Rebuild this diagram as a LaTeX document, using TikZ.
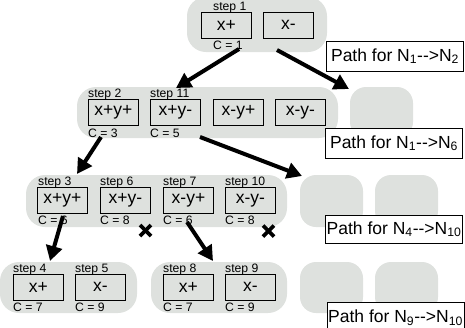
\documentclass[tikz,border=0pt]{standalone}
\usepackage{fontspec}
\setmainfont{Liberation Sans}[Ligatures=TeXOff]
\usetikzlibrary{arrows.meta}
\definecolor{grp}{RGB}{222,225,222}
\begin{document}
\begin{tikzpicture}[x=1pt,y=-1pt,
  group/.style={fill=grp,rounded corners=19pt},
  emptybox/.style={fill=grp,rounded corners=16pt},
  valbox/.style={draw=black,line width=0.9pt,fill=grp,minimum width=50pt,minimum height=25.5pt,inner sep=0pt,anchor=north west,font=\fontsize{17.5}{18}\selectfont},
  steplbl/.style={anchor=base west,inner sep=0pt,font=\fontsize{12.2}{13}\selectfont},
  costlbl/.style={anchor=base west,inner sep=0pt,font=\fontsize{12.2}{13}\selectfont},
  pathbox/.style={draw=black,line width=1.1pt,fill=white,anchor=north west,minimum width=137pt,minimum height=29.5pt,inner sep=0pt,font=\fontsize{17.5}{18}\selectfont},
  bigarrow/.style={line width=4pt,-{Triangle[length=15pt,width=16pt]}},
  crossmark/.style={line width=3.6pt}
]
\useasboundingbox (0,0) rectangle (465,327);
% groups
\fill[group] (187,-3) rectangle (327,52);
\fill[group] (77,87) rectangle (338,138);
\fill[emptybox] (350,87) rectangle (413,138);
\fill[group] (26,175) rectangle (287,227);
\fill[emptybox] (300,175) rectangle (363,227);
\fill[emptybox] (375,175) rectangle (438,227);
\fill[group] (0,262) rectangle (137,313);
\fill[group] (151,262) rectangle (287,313);
\fill[emptybox] (300,262) rectangle (363,313);
\fill[emptybox] (375,262) rectangle (438,313);

% level 1
\node[valbox] (a1) at (201,12) {x+};
\node[valbox] (a2) at (263,12) {x-};
\node[steplbl] (s1) at (213,10.5) {step 1};
\node[costlbl] (c1) at (213,49) {C = 1};

% level 2
\node[valbox] (b1) at (88,99) {x+y+};
\node[valbox] (b2) at (150,99) {x+y-};
\node[valbox] (b3) at (213,99) {x-y+};
\node[valbox] (b4) at (275,99) {x-y-};
\node[steplbl] (s2) at (88,97.5) {step 2};
\node[steplbl] (s11) at (150,97.5) {step 11};
\node[costlbl] (c3) at (88,137) {C = 3};
\node[costlbl] (c5) at (150,137) {C = 5};

% level 3
\node[valbox] (d1) at (37,187) {x+y+};
\node[valbox] (d2) at (100,187) {x+y-};
\node[valbox] (d3) at (163,187) {x-y+};
\node[valbox] (d4) at (225,187) {x-y-};
\node[steplbl] (s3) at (38,185.5) {step 3};
\node[steplbl] (s6) at (100,185.5) {step 6};
\node[steplbl] (s7) at (163,185.5) {step 7};
\node[steplbl] (s10) at (225,185.5) {step 10};
\node[costlbl] (c6a) at (38,224.5) {C = 6};
\node[costlbl] (c8a) at (100,224.5) {C = 8};
\node[costlbl] (c6b) at (163,224.5) {C = 6};
\node[costlbl] (c8b) at (225,224.5) {C = 8};

% level 4
\node[valbox] (e1) at (13,274) {x+};
\node[valbox] (e2) at (75,274) {x-};
\node[valbox] (e3) at (163,274) {x+};
\node[valbox] (e4) at (225,274) {x-};
\node[steplbl] (s4) at (13,272.5) {step 4};
\node[steplbl] (s5) at (75,272.5) {step 5};
\node[steplbl] (s8) at (163,272.5) {step 8};
\node[steplbl] (s9) at (225,272.5) {step 9};
\node[costlbl] (c7a) at (13,311.5) {C = 7};
\node[costlbl] (c9a) at (75,311.5) {C = 9};
\node[costlbl] (c7b) at (163,311.5) {C = 7};
\node[costlbl] (c9b) at (225,311.5) {C = 9};

% path boxes
\node[pathbox] (p1) at (326,41) {Path for N\textsubscript{1}-->N\textsubscript{2}};
\node[pathbox] (p2) at (325,128) {Path for N\textsubscript{1}-->N\textsubscript{6}};
\node[pathbox,minimum height=27.5pt] (p3) at (325,215) {Path for N\textsubscript{4}-->N\textsubscript{10}};
\node[pathbox,minimum height=30pt,anchor=north west] (p4) at (326.5,302) {\raisebox{2pt}{Path for N\textsubscript{9}-->N\textsubscript{10}}};

% arrow coordinates
\coordinate (f1) at (239,49);
\coordinate (t1) at (176,88);
\coordinate (f2) at (277,50);
\coordinate (t2) at (349,89);
\coordinate (f3) at (101,137);
\coordinate (t3) at (77,174);
\coordinate (f4) at (200,137);
\coordinate (t4) at (302,176);
\coordinate (f5) at (63,216);
\coordinate (t5) at (50,261);
\coordinate (f6) at (187,222);
\coordinate (t6) at (213,261);
\draw[bigarrow] (f1) -- (t1);
\draw[bigarrow] (f2) -- (t2);
\draw[bigarrow] (f3) -- (t3);
\draw[bigarrow] (f4) -- (t4);
\draw[bigarrow] (f5) -- (t5);
\draw[bigarrow] (f6) -- (t6);

% crosses
\coordinate (x1) at (145.5,230.5);
\coordinate (x2) at (268.5,231);
\draw[crossmark] ([shift={(-5.5,-5.5)}]x1) -- ([shift={(5.5,5.5)}]x1);
\draw[crossmark] ([shift={(-5.5,5.5)}]x1) -- ([shift={(5.5,-5.5)}]x1);
\draw[crossmark] ([shift={(-5.5,-5.5)}]x2) -- ([shift={(5.5,5.5)}]x2);
\draw[crossmark] ([shift={(-5.5,5.5)}]x2) -- ([shift={(5.5,-5.5)}]x2);
\end{tikzpicture}
\end{document}
